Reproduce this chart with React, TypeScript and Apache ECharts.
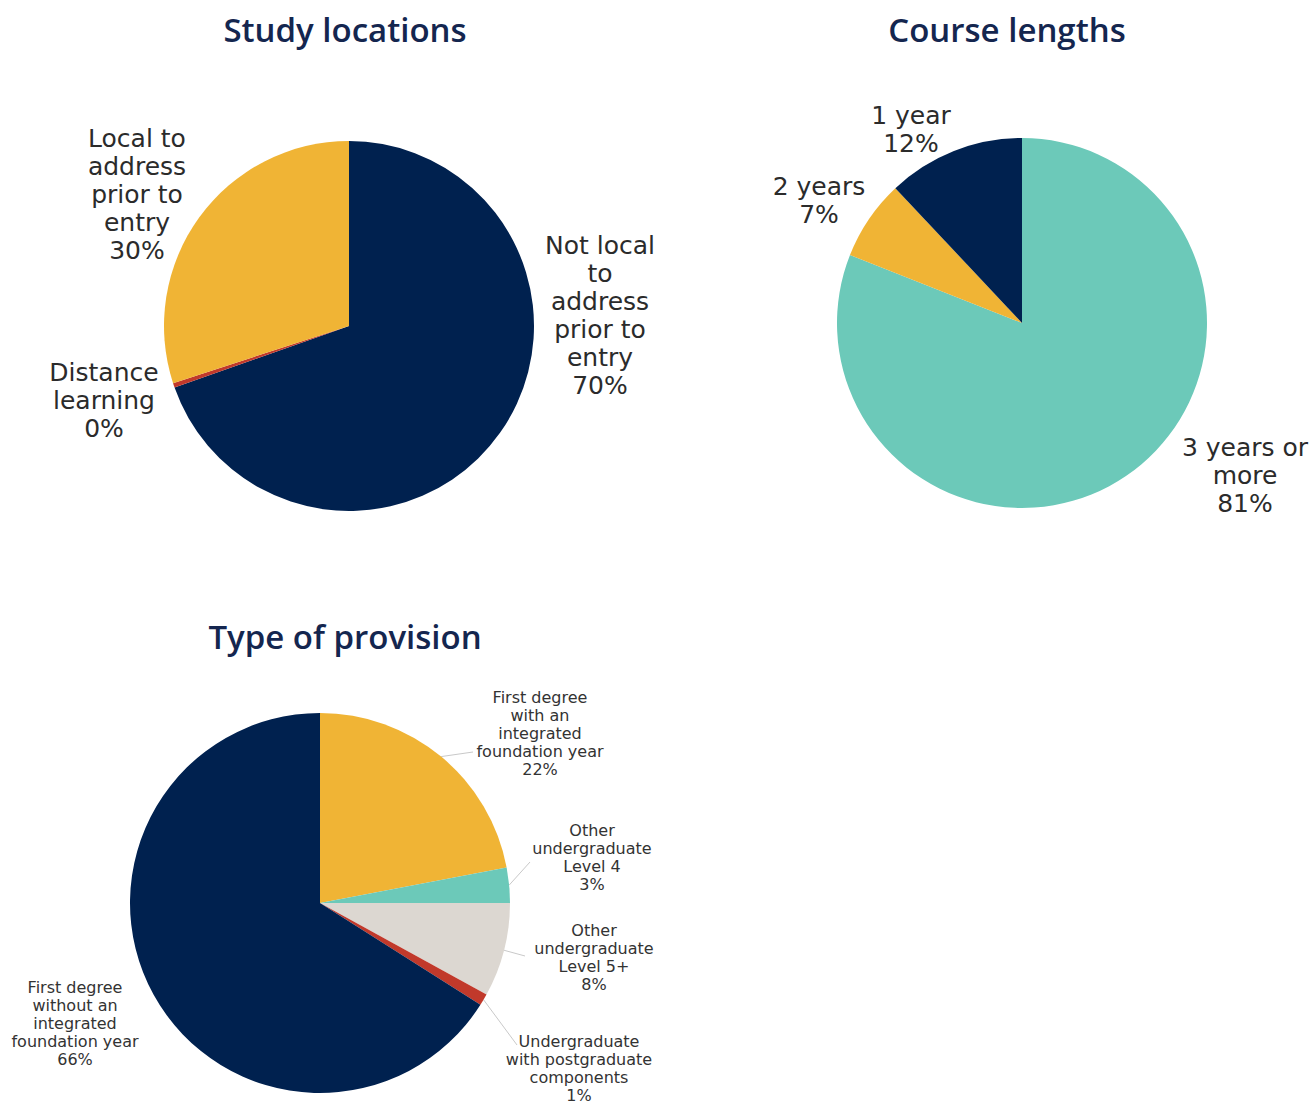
import React, { useEffect, useRef } from "react";
import * as echarts from "echarts";

const NAVY = "#00214F";
const YELLOW = "#F0B435";
const TEAL = "#6CC9B9";
const GREY = "#DCD7D1";
const RED = "#C1392B";
const LABEL_FONT = "'DejaVu Sans', sans-serif";
const TITLE_FONT = "'Open Sans', 'Noto Sans', sans-serif";

const titles = ["Study locations", "Course lengths", "Type of provision"];

const locationNames = [
  "Not local\nto\naddress\nprior to\nentry",
  "Distance\nlearning",
  "Local to\naddress\nprior to\nentry",
];
const locationValues = [69.6, 0.4, 30];
const locationColors = [NAVY, RED, YELLOW];

const lengthNames = ["3 years or\nmore", "2 years", "1 year"];
const lengthValues = [81, 7, 12];
const lengthColors = [TEAL, YELLOW, NAVY];

const provisionNames = [
  "First degree\nwith an\nintegrated\nfoundation year",
  "Other\nundergraduate\nLevel 4",
  "Other\nundergraduate\nLevel 5+",
  "Undergraduate\nwith postgraduate\ncomponents",
  "First degree\nwithout an\nintegrated\nfoundation year",
];
const provisionValues = [22, 3, 8, 1, 66];
const provisionColors = [YELLOW, TEAL, GREY, RED, NAVY];

// layout (label centres and leader-line ends), kept apart from data
const locationLabelPos = [[600, 315], [104, 400], [137, 194]];
const lengthLabelPos = [[1245, 475], [819, 200], [911, 129]];
const provisionLabelPos = [[540, 733], [592, 857], [594, 957], [579, 1068], [75, 1023]];
const provisionLineEnd = [[473, 752], [530, 862], [525, 956], [517, 1045], null];

function makeData(names: string[], values: number[], colors: string[], hideLine?: boolean[]) {
  return names.map((n, i) => ({
    name: n,
    value: values[i],
    itemStyle: { color: colors[i] },
    labelLine: hideLine && hideLine[i] ? { show: false } : undefined,
  }));
}

export default function App() {
  const ref = useRef<HTMLDivElement>(null);
  useEffect(() => {
    document.body.style.margin = "0";
    const chart = echarts.init(ref.current!, undefined, { renderer: "svg" });
    const bigLabel = {
      show: true,
      position: "outside",
      formatter: "{b}\n{d}%",
      color: "#2B2B2B",
      fontFamily: LABEL_FONT,
      fontSize: 25,
      lineHeight: 28,
      align: "center",
    };
    const smallLabel = {
      show: true,
      position: "outside",
      formatter: "{b}\n{d}%",
      color: "#333333",
      fontFamily: LABEL_FONT,
      fontSize: 16,
      lineHeight: 18,
      align: "center",
    };
    const titleStyle = {
      color: "#14264F",
      fontFamily: TITLE_FONT,
      fontSize: 33,
      fontWeight: 600,
      lineHeight: 36,
    };
    chart.setOption({
      animation: false,
      backgroundColor: "#ffffff",
      title: [
        { text: titles[0], left: 340, top: 6, textAlign: "center", textStyle: titleStyle },
        { text: titles[1], left: 1002, top: 6, textAlign: "center", textStyle: titleStyle },
        { text: titles[2], left: 340, top: 613, textAlign: "center", textStyle: titleStyle },
      ],
      series: [
        {
          type: "pie",
          center: [349, 326],
          radius: 185,
          startAngle: 90,
          clockwise: true,
          percentPrecision: 0,
          avoidLabelOverlap: false,
          silent: true,
          label: bigLabel,
          labelLine: { show: false },
          labelLayout: (p: any) => ({
            x: locationLabelPos[p.dataIndex][0],
            y: locationLabelPos[p.dataIndex][1],
            align: "center",
            verticalAlign: "middle",
          }),
          data: makeData(locationNames, locationValues, locationColors),
        },
        {
          type: "pie",
          center: [1022, 323],
          radius: 185,
          startAngle: 90,
          clockwise: true,
          percentPrecision: 0,
          avoidLabelOverlap: false,
          silent: true,
          label: bigLabel,
          labelLine: { show: false },
          labelLayout: (p: any) => ({
            x: lengthLabelPos[p.dataIndex][0],
            y: lengthLabelPos[p.dataIndex][1],
            align: "center",
            verticalAlign: "middle",
          }),
          data: makeData(lengthNames, lengthValues, lengthColors),
        },
        {
          type: "pie",
          center: [320, 903],
          radius: 190,
          startAngle: 90,
          clockwise: true,
          percentPrecision: 0,
          avoidLabelOverlap: false,
          silent: true,
          label: smallLabel,
          labelLine: { show: true, length: 10, length2: 10, lineStyle: { color: "#C9C9C9", width: 1 } },
          labelLayout: (p: any) => {
            const i = p.dataIndex;
            const out: any = {
              x: provisionLabelPos[i][0],
              y: provisionLabelPos[i][1],
              align: "center",
              verticalAlign: "middle",
            };
            const end = provisionLineEnd[i];
            if (end && p.labelLinePoints) {
              out.labelLinePoints = [p.labelLinePoints[0], end];
            }
            return out;
          },
          data: makeData(provisionNames, provisionValues, provisionColors, [false, false, false, false, true]),
        },
      ],
    });
    return () => chart.dispose();
  }, []);
  return <div ref={ref} style={{ width: 1312, height: 1106 }} />;
}
